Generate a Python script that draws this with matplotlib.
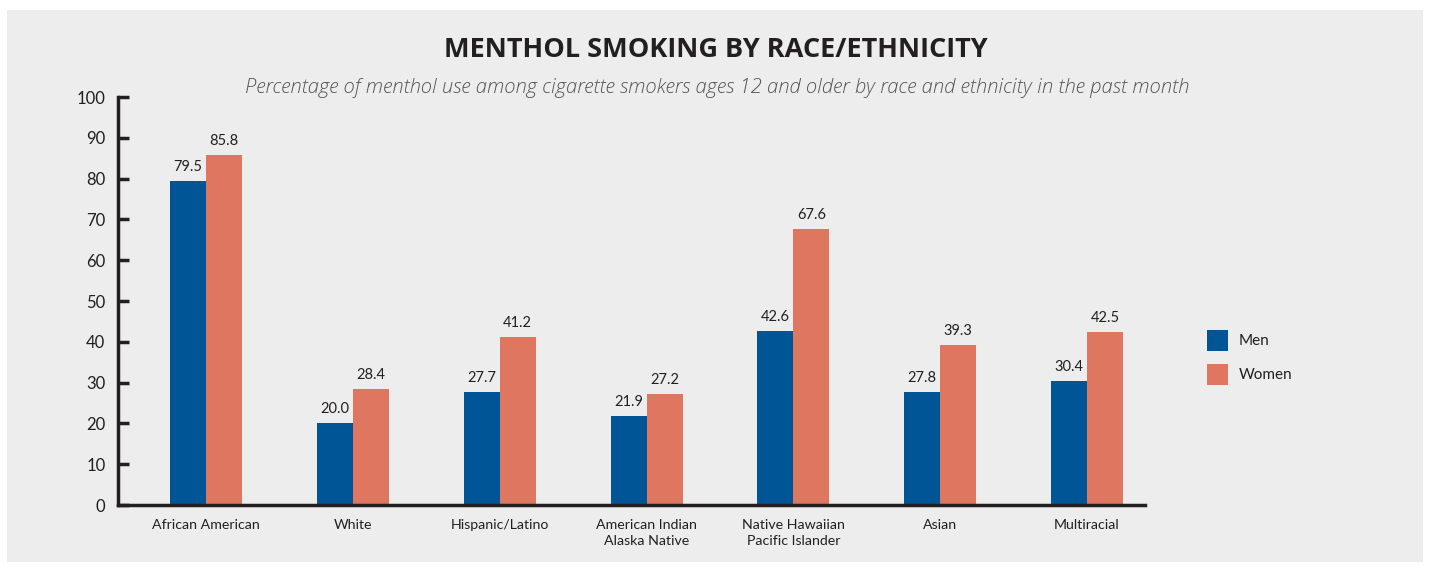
import matplotlib
matplotlib.use("Agg")
import matplotlib.pyplot as plt
import numpy as np
from matplotlib.patches import Rectangle

categories = ["African American", "White", "Hispanic/Latino",
              "American Indian\nAlaska Native", "Native Hawaiian\nPacific Islander",
              "Asian", "Multiracial"]
men = [79.5, 20.0, 27.7, 21.9, 42.6, 27.8, 30.4]
women = [85.8, 28.4, 41.2, 27.2, 67.6, 39.3, 42.5]
yticks = [0, 10, 20, 30, 40, 50, 60, 70, 80, 90, 100]
series_names = ["Men", "Women"]

MEN_C = "#005596"
WOMEN_C = "#df7660"
BG = "#ededed"
DARK = "#231f20"

plt.rcParams['font.family'] = ['Lato', 'DejaVu Sans']

W, H = 1431, 565
fig = plt.figure(figsize=(W/100, H/100), dpi=100)
fig.patch.set_facecolor("white")
fig.patches.append(Rectangle((7/W, 3/H), 1416/W, 552/H, transform=fig.transFigure,
                             facecolor=BG, edgecolor="none", zorder=-10))

ax = fig.add_axes([118/W, 1-505/H, (1145-118)/W, (505-97)/H])
ax.set_facecolor("none")

x = np.arange(len(categories))
bw = 0.245
b1 = ax.bar(x - bw/2, men, bw, color=MEN_C, label=series_names[0], zorder=2)
b2 = ax.bar(x + bw/2, women, bw, color=WOMEN_C, label=series_names[1], zorder=2)

for rects, vals in ((b1, men), (b2, women)):
    for r, v in zip(rects, vals):
        ax.annotate(f"{v:.1f}", (r.get_x() + r.get_width()/2, v),
                    xytext=(0, 5), textcoords="offset points",
                    ha="center", va="bottom", fontsize=10.5, color=DARK)

ax.set_xlim(-0.6, 6.395)
ax.set_ylim(0, 100)
ax.set_yticks(yticks)
ax.set_xticks(x)
ax.set_xticklabels(categories, fontsize=10.2, color=DARK, linespacing=1.45)
ax.tick_params(axis="x", length=0, pad=10)
ax.tick_params(axis="y", direction="in", length=8, width=2.5, color=DARK,
               labelsize=12, labelcolor=DARK, pad=9)
for s in ("top", "right"):
    ax.spines[s].set_visible(False)
for s in ("left", "bottom"):
    ax.spines[s].set_linewidth(2.5)
    ax.spines[s].set_color(DARK)

fig.text(716/W, 1-50/H, "MENTHOL SMOKING BY RACE/ETHNICITY", ha="center", va="center",
         fontsize=19.5, fontweight="bold", color=DARK, family=["Open Sans", "DejaVu Sans"])
fig.text(717/W, 1-88/H,
         "Percentage of menthol use among cigarette smokers ages 12 and older by race and ethnicity in the past month",
         ha="center", va="center", fontsize=14.6, style="italic", color="#555555",
         family=["Open Sans", "DejaVu Sans"], fontweight="light")

# legend
for i, (name, c) in enumerate(zip(series_names, [MEN_C, WOMEN_C])):
    top = 330 + i * 34
    fig.patches.append(Rectangle((1207/W, 1-(top+21)/H), 21/W, 21/H,
                                 transform=fig.transFigure, facecolor=c, edgecolor="none"))
    fig.text(1239/W, 1-(top+11)/H, name, ha="left", va="center", fontsize=11, color=DARK)

fig.savefig("out.png", dpi=100, facecolor=fig.get_facecolor())
